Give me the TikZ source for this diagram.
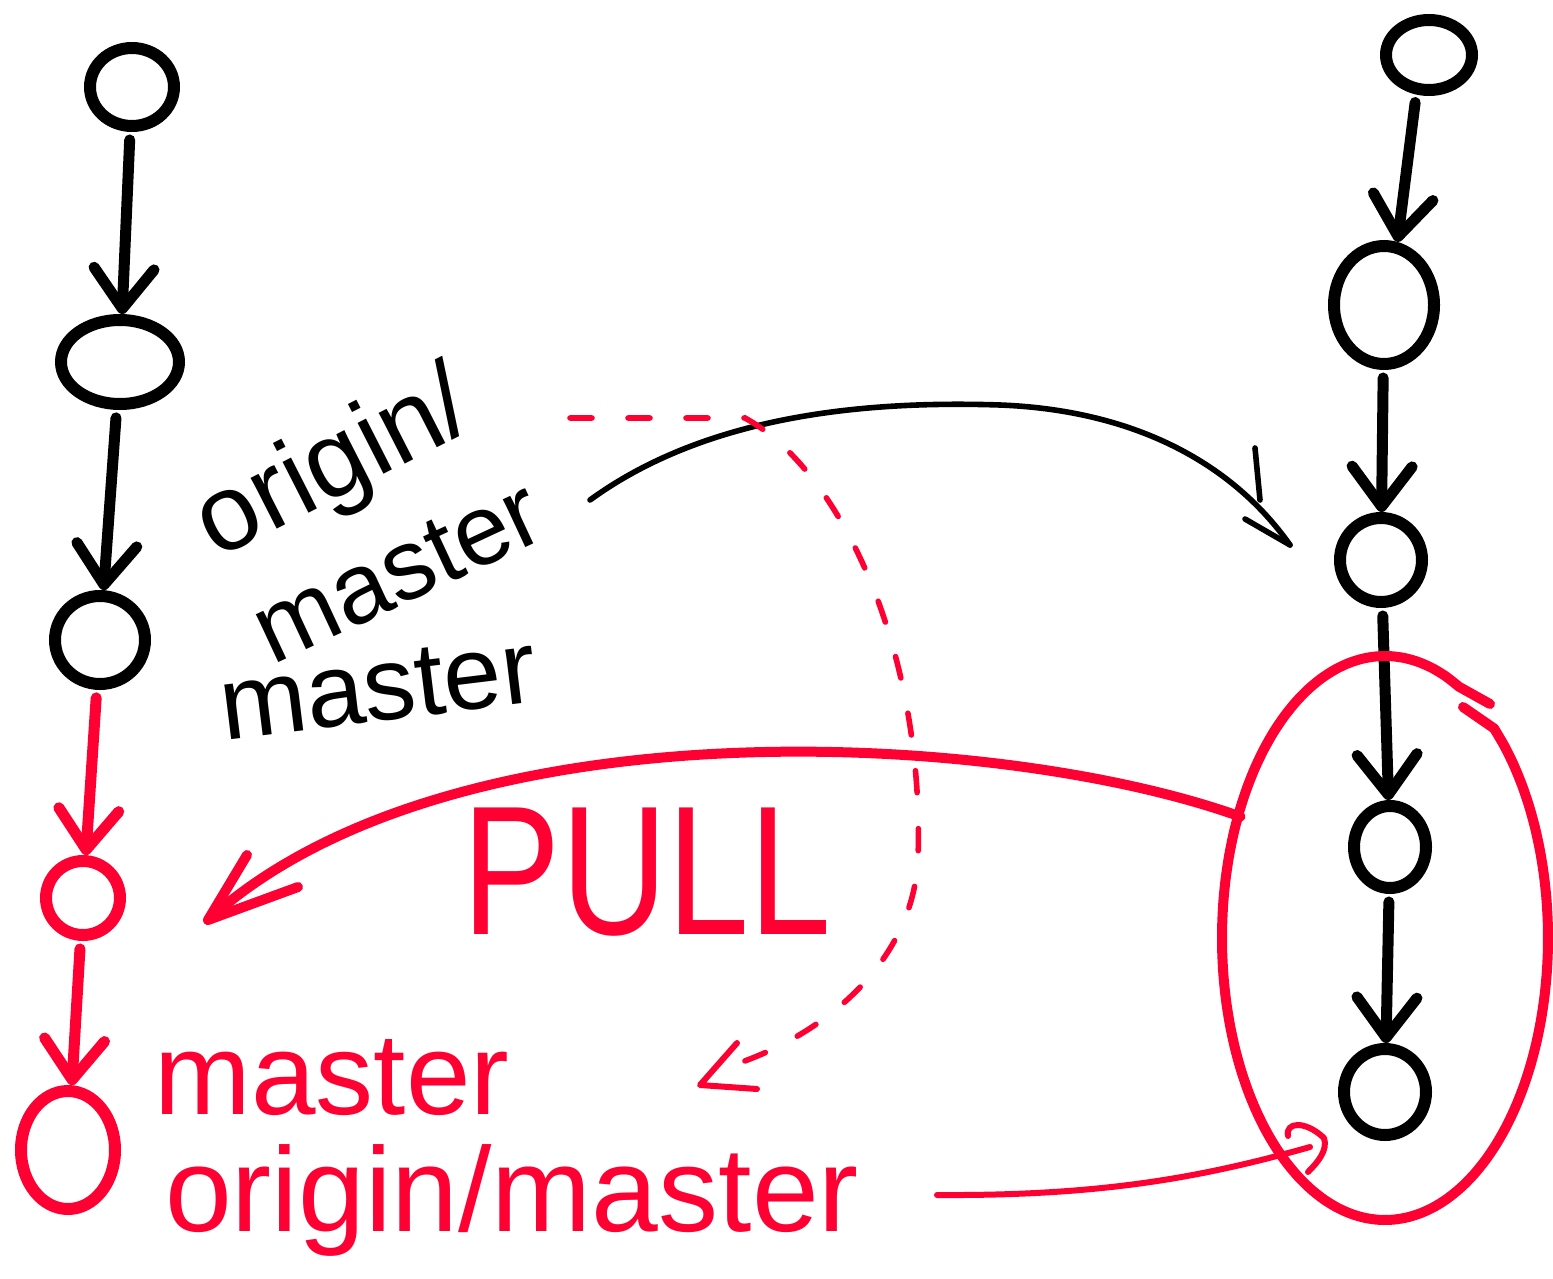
\documentclass[tikz,border=0pt]{standalone}
\usepackage{fontspec}
\setmainfont{Liberation Sans}
\usetikzlibrary{arrows.meta,shapes.geometric}
\definecolor{hred}{RGB}{255,0,51}
\begin{document}
\begin{tikzpicture}[x=0.5pt,y=-0.5pt,
  commit/.style={draw, ellipse, line width=6pt, inner sep=0pt},
  bcommit/.style={commit, draw=black},
  rcommit/.style={commit, draw=hred},
  barbtip/.style={-{Straight Barb[length=20pt,width=30pt,round]}},
  blink/.style={line width=5.5pt, draw=black, line cap=round, barbtip, shorten <=4pt},
  rlink/.style={line width=5.5pt, draw=hred, line cap=round, barbtip, shorten <=4pt},
  thinblack/.style={line width=2.8pt, draw=black, line cap=round, line join=round},
  thinred/.style={line width=3pt, draw=hred, line cap=round, line join=round},
  thickred/.style={line width=5pt, draw=hred, line cap=round, line join=round},
  dashred/.style={line width=2.8pt, draw=hred, line cap=round, dash pattern=on 11pt off 18pt},
  blabel/.style={font=\fontsize{50}{52}\selectfont, inner sep=0pt},
  rlabel/.style={font=\fontsize{58}{60}\selectfont, text=hred, inner sep=0pt}
]
\useasboundingbox (0,0) rectangle (1553,1279);

% left column
\node[bcommit, minimum width=42pt, minimum height=39pt] (L1) at (132,87) {};
\node[bcommit, minimum width=59pt, minimum height=42pt] (L2) at (120,362) {};
\node[bcommit, minimum width=45pt, minimum height=44pt] (L3) at (100,640) {};
\node[rcommit, minimum width=37pt, minimum height=37pt] (L4) at (83,898) {};
\node[rcommit, minimum width=47pt, minimum height=59pt] (L5) at (68,1150) {};

\draw[blink] (L1) -- (L2);
\draw[blink] (L2) -- (L3);
\draw[rlink] (L3) -- (L4);
\draw[rlink] (L4) -- (L5);

% right column
\node[bcommit, minimum width=43pt, minimum height=35pt] (R1) at (1429,55) {};
\node[bcommit, minimum width=50pt, minimum height=59pt] (R2) at (1384,305) {};
\node[bcommit, minimum width=41pt, minimum height=42pt] (R3) at (1381,560) {};
\node[bcommit, minimum width=36pt, minimum height=41pt] (R4) at (1390,847) {};
\node[bcommit, minimum width=41pt, minimum height=43pt] (R5) at (1385,1092) {};

\draw[blink] (R1.252) -- (R2.78);
\draw[blink] (R2) -- (R3);
\draw[blink] (R3) -- (R4);
\draw[blink] (R4) -- (R5);

% black labels
\node[blabel, rotate=27, font=\fontsize{54}{56}\selectfont] (orig) at (335,468) {origin/};
\node[blabel, rotate=25] (mast1) at (398,572) {master};
\node[blabel, rotate=7, font=\fontsize{52}{54}\selectfont] (mast2) at (378,688) {master};

% black curved connector (origin/master label to R3)
\coordinate (bstart) at (590,500);
\coordinate (btip) at (1290,545);
\draw[thinblack] (bstart) .. controls (700,420) and (850,400) .. (1000,405)
  .. controls (1130,410) and (1230,460) .. (btip);
\draw[thinblack] (1255,448) -- (1260,500);
\draw[thinblack] (1245,519) -- (btip);

% red grouping ellipse
\node[ellipse, inner sep=0pt, minimum width=160pt, minimum height=280pt] (E) at (1385,938) {};
\draw[thickred] (1463,707) -- plot[smooth, domain=48:-297, samples=70] ({1385+163*cos(\x)}, {938-282*sin(\x)}) -- (1490,704);

% PULL arrow
\coordinate (ptip) at (208,920);
\draw[thickred] (E.140) .. controls (1000,730) and (450,700) .. (ptip);
\draw[thickred] (247,855) -- (ptip) -- (298,887);
\node[rlabel, font=\fontsize{92}{92}\selectfont, xscale=0.8] (pull) at (647,872) {PULL};

% dashed red connector
\coordinate (dstart) at (570,418);
\coordinate (dtip) at (700,1085);
\draw[dashred] (dstart) -- (745,418) .. controls (840,470) and (925,650) .. (918,860)
  .. controls (912,960) and (830,1030) .. (742,1062);
\draw[thinred] (737,1043) -- (dtip) -- (757,1089);

% red labels
\node[rlabel] (rmaster) at (332,1078) {master};
\node[rlabel, font=\fontsize{60}{62}\selectfont] (rorig) at (512,1200) {origin/master};

% red connector to R5
\coordinate (rstart) at (937,1195);
\coordinate (rtip) at (1310,1147);
\draw[thinred] (rstart) .. controls (1100,1196) and (1200,1178) .. (rtip);
\draw[thinred] (1288,1136) .. controls (1285,1122) and (1305,1120) .. (1324,1138)
  .. controls (1328,1150) and (1318,1162) .. (1308,1172);

\end{tikzpicture}
\end{document}
